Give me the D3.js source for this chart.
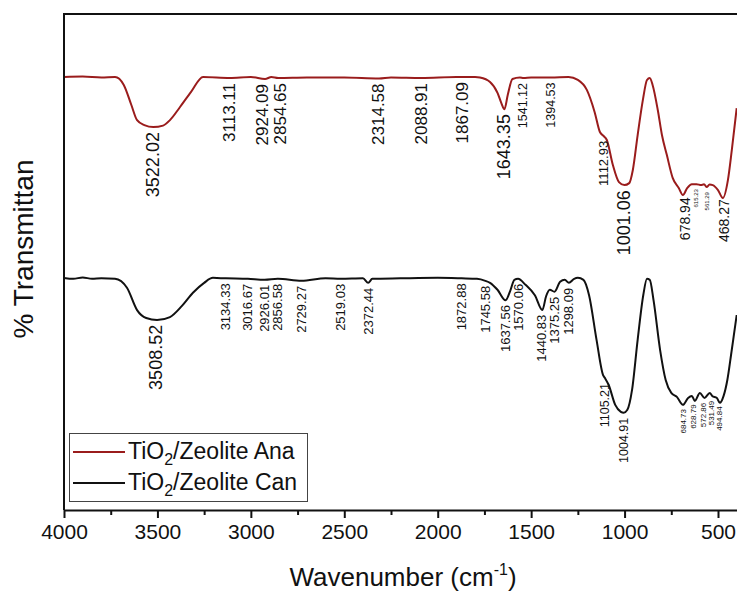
<!DOCTYPE html>
<html><head><meta charset="utf-8">
<script src="https://cdn.jsdelivr.net/npm/d3@7"></script>
<style>
html,body{margin:0;padding:0;background:#fff;}
svg{display:block;font-family:"Liberation Sans",Arial,Helvetica,sans-serif;}
</style></head>
<body>
<svg id="chart" width="737" height="592"></svg>
<script>
// ---------- DATA ----------
const seriesNames = ["TiO2/Zeolite Ana", "TiO2/Zeolite Can"];
const xTickValues = [4000, 3500, 3000, 2500, 2000, 1500, 1000, 500];
const xMinorTickValues = [3750, 3250, 2750, 2250, 1750, 1250, 750];

const anaWn = [4000,3900,3800,3727,3680,3640,3609,3570,3522,3470,3433,3380,3320,3256,3113,3000,2924,2890,2854,2700,2500,2314,2250,2088,1900,1800,1774,1720,1680,1660,1643,1625,1600,1560,1541,1500,1394,1300,1250,1202,1160,1132,1112,1095,1063,1030,1001,975,956,930,902,880,865,850,822,800,774,742,710,688,665,640,615,590,575,561,545,528,500,474,447,426,400];
const anaT  = [87.3,87.4,87.2,87.3,85.7,81.7,78.6,77.6,77.2,77.5,78.6,81.2,84.3,87.3,87.1,87.3,86.9,87.3,87.1,87.2,87.2,87.0,87.2,87.1,87.3,87.3,87.2,86.3,84.1,82.1,80.8,83.7,86.9,87.2,87.1,87.2,87.2,87.3,86.7,84.7,80.2,76.2,75.4,74.6,69.6,66.1,65.5,65.9,68.5,75.6,82.7,86.7,87.1,85.7,80.6,75.6,71.6,66.9,64.9,63.5,64.9,65.7,65.7,65.5,65.7,65.1,65.6,65.5,64.5,62.9,66.5,72.6,81.0];

const canWn = [4000,3950,3900,3850,3800,3727,3663,3609,3560,3502,3433,3370,3310,3250,3203,3134,3016,2926,2856,2729,2600,2519,2400,2372,2350,2200,2000,1872,1790,1745,1720,1680,1637,1610,1590,1570,1530,1480,1440,1420,1400,1375,1345,1320,1298,1270,1250,1220,1190,1150,1115,1105,1085,1050,1020,1005,985,960,930,900,880,865,845,810,780,750,720,688,660,640,624,597,572,544,531,506,490,470,450,430,415,400];
const canT  = [46.8,46.6,46.9,46.6,46.7,46.6,44.8,40.3,38.7,38.3,38.9,41.1,43.8,45.8,46.8,46.7,46.6,46.4,46.6,46.2,46.7,46.6,46.7,45.8,46.6,46.7,46.8,46.7,46.6,46.2,45.8,44.4,42.3,44.4,46.4,46.6,45.4,43.3,40.3,43.1,44.4,44.0,46.0,46.4,45.8,46.6,46.8,46.4,43.3,34.3,27.2,26.6,25.2,21.2,19.8,19.6,20.2,24.2,34.3,43.3,46.6,46.4,42.3,32.3,26.2,23.6,22.8,21.2,22.6,23.0,22.0,23.6,22.6,23.6,23.0,22.6,21.6,23.0,26.2,31.3,35.3,39.3];

const anaPeaks = ["3522.02","3113.11","2924.09","2854.65","2314.58","2088.91","1867.09","1643.35","1541.12","1394.53","1112.93","1001.06","678.94","615.23","561.29","468.27"];
const canPeaks = ["3508.52","3134.33","3016.67","2926.01","2856.58","2729.27","2519.03","2372.44","1872.88","1745.58","1637.56","1570.06","1440.83","1375.25","1298.09","1105.21","1004.91","684.73","628.79","572.86","531.49","494.84"];

// ---------- LAYOUT / STYLE ----------
const W = 737, H = 592;
const plotLeft = 64, plotTop = 14, plotBottom = 510;
const colors = ["#9a1c1c", "#111111"];
const svg = d3.select("#chart");

const x = d3.scaleLinear().domain([4000, 400]).range([plotLeft, plotLeft + 3600 * 654 / 3500]);
const y = d3.scaleLinear().domain([0, 100]).range([plotBottom, plotTop]);

svg.append("defs").append("clipPath").attr("id", "clip")
  .append("rect").attr("x", plotLeft).attr("y", plotTop).attr("width", W - plotLeft).attr("height", plotBottom - plotTop);

const line = d3.line().x(d => x(d[0])).y(d => y(d[1])).curve(d3.curveMonotoneX);
const anaData = anaWn.map((w, i) => [w, anaT[i]]);
const canData = canWn.map((w, i) => [w, canT[i]]);

const g = svg.append("g").attr("clip-path", "url(#clip)");
[anaData, canData].forEach((data, i) => {
  g.append("path").datum(data).attr("d", line)
    .attr("fill", "none").attr("stroke", colors[i]).attr("stroke-width", 2).attr("stroke-linejoin", "round");
});

// interpolate curve value at a wavenumber
function valueAt(data, w) {
  for (let i = 0; i < data.length - 1; i++) {
    const a = data[i], b = data[i + 1];
    if ((w <= a[0] && w >= b[0])) {
      const t = (a[0] - w) / (a[0] - b[0]);
      return a[1] + t * (b[1] - a[1]);
    }
  }
  return data[data.length - 1][1];
}

// peak label font sizes (style)
const anaSize = {"3522.02":18,"1643.35":18,"1001.06":18,"1541.12":12.5,"1394.53":12.5,"1112.93":13,"678.94":14,"468.27":14,"615.23":6,"561.29":6};
const canSize = {"3508.52":18,"1105.21":12.5,"1004.91":12.5,"684.73":8,"628.79":8,"572.86":8,"531.49":8,"494.84":8};

function drawPeaks(labels, data, sizes, defSize) {
  const items = labels.map(lbl => {
    const w = parseFloat(lbl);
    const fs = sizes[lbl] || defSize;
    return {lbl, fs, px: x(w), py: y(valueAt(data, w)) + 5};
  });
  // light collision relaxation between neighbouring rotated labels
  for (let iter = 0; iter < 20; iter++) {
    for (let i = 0; i < items.length - 1; i++) {
      const a = items[i], b = items[i + 1];
      const need = (a.fs + b.fs) / 2 * 1.02;
      const gap = b.px - a.px;
      if (gap < need) { const d = (need - gap) / 2; a.px -= d; b.px += d; }
    }
  }
  items.forEach(it => {
    svg.append("text")
      .attr("transform", `translate(${it.px},${it.py}) rotate(-90)`)
      .attr("text-anchor", "end")
      .attr("dominant-baseline", "central")
      .attr("font-size", it.fs)
      .attr("fill", "#111")
      .text(it.lbl);
  });
}
drawPeaks(anaPeaks, anaData, anaSize, 17);
drawPeaks(canPeaks, canData, canSize, 13);

// frame: top border and left axis
svg.append("line").attr("x1", plotLeft).attr("x2", W).attr("y1", plotTop).attr("y2", plotTop)
  .attr("stroke", "#111").attr("stroke-width", 2);
svg.append("line").attr("x1", plotLeft).attr("x2", plotLeft).attr("y1", plotTop - 1).attr("y2", plotBottom)
  .attr("stroke", "#111").attr("stroke-width", 2);

// x axis
const xAxis = svg.append("g").attr("transform", `translate(0,${plotBottom})`)
  .call(d3.axisBottom(x).tickValues(xTickValues).tickSize(8).tickSizeOuter(0).tickPadding(6).tickFormat(d3.format("d")));
xAxis.select(".domain").attr("stroke", "#111").attr("stroke-width", 2);
xAxis.selectAll(".tick line").attr("stroke", "#111").attr("stroke-width", 2);
xAxis.selectAll(".tick text").attr("font-size", 21).attr("fill", "#111")
  .attr("font-family", "'Liberation Sans',Arial,sans-serif");
const xMinor = svg.append("g").attr("transform", `translate(0,${plotBottom})`)
  .call(d3.axisBottom(x).tickValues(xMinorTickValues).tickSize(5).tickFormat(""));
xMinor.select(".domain").remove();
xMinor.selectAll(".tick line").attr("stroke", "#111").attr("stroke-width", 2);

// axis titles
const xt = svg.append("text").attr("x", 403).attr("y", 586).attr("text-anchor", "middle")
  .attr("font-size", 26).attr("fill", "#111");
xt.append("tspan").text("Wavenumber (cm");
xt.append("tspan").attr("font-size", 16).attr("dy", -11).text("-1");
xt.append("tspan").attr("dy", 11).text(")");

svg.append("text").attr("transform", "translate(33,249) rotate(-90)")
  .attr("text-anchor", "middle").attr("font-size", 28).attr("fill", "#111")
  .text("% Transmittan");

// legend
const lg = svg.append("g");
lg.append("rect").attr("x", 69.5).attr("y", 433.5).attr("width", 238).attr("height", 68)
  .attr("fill", "#fff").attr("stroke", "#444").attr("stroke-width", 1);
seriesNames.forEach((name, i) => {
  const ly = 452 + i * 31;
  lg.append("line").attr("x1", 73).attr("x2", 125).attr("y1", ly).attr("y2", ly)
    .attr("stroke", colors[i]).attr("stroke-width", 2);
  const t = lg.append("text").attr("x", 128).attr("y", ly + 7).attr("font-size", 23).attr("fill", "#111");
  const parts = name.split("2");
  t.append("tspan").text(parts[0]);
  t.append("tspan").attr("font-size", 16).attr("dy", 6).text("2");
  t.append("tspan").attr("dy", -6).text(parts.slice(1).join("2"));
});
</script>
</body></html>
